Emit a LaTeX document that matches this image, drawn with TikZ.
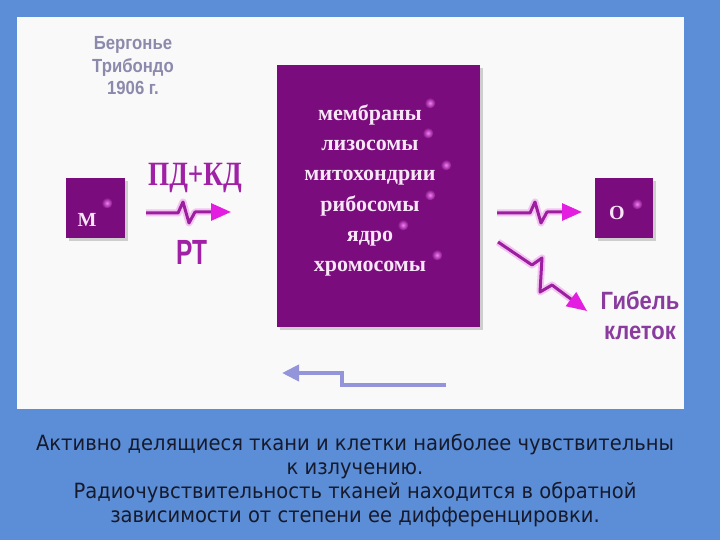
\documentclass[tikz,border=0pt]{standalone}
\usepackage{fontspec}
\setmainfont{Liberation Serif}
\newfontfamily\serifnarrow[FakeStretch=0.8]{Liberation Serif}
\newfontfamily\sansnarrow[FakeStretch=0.88]{Liberation Sans}
\newfontfamily\sansrt[FakeStretch=0.7]{Liberation Sans}
\newfontfamily\capfont[FakeStretch=0.93]{DejaVu Sans}
\usetikzlibrary{arrows.meta,shadows}
\definecolor{bgblue}{HTML}{5B8ED6}
\definecolor{panel}{HTML}{F9F9FA}
\definecolor{boxpurple}{HTML}{7B0C7E}
\definecolor{linepurple}{HTML}{9C1FA0}
\definecolor{tipmagenta}{HTML}{E41EE0}
\definecolor{glowpink}{HTML}{F3C4F1}
\definecolor{labelpurple}{HTML}{A021A6}
\definecolor{deathpurple}{HTML}{8A3B9E}
\definecolor{graylilac}{HTML}{8C8AAC}
\definecolor{boxtext}{HTML}{F6E6F6}
\definecolor{backarrow}{HTML}{9494DA}
\definecolor{captext}{HTML}{161A2C}
\definecolor{dotcore}{HTML}{F47CF4}
\tikzset{
  cellbox/.style={fill=boxpurple, inner sep=0pt,
    drop shadow={shadow xshift=3pt, shadow yshift=-3pt, fill=black!30, opacity=0.6}},
  zig/.style={draw=linepurple, line width=3pt, line join=round,
    -{Triangle[length=20pt,width=17pt,color=tipmagenta]},
    preaction={draw=glowpink, line width=7pt, -, shorten >=14pt, line join=round}},
  backline/.style={draw=backarrow, line width=4pt,
    -{Triangle[length=17pt,width=16pt,color=backarrow]}},
  glowdot/.style={inner color=dotcore, outer color=boxpurple}
}
\begin{document}
\begin{tikzpicture}[x=1pt,y=-1pt]
\useasboundingbox (0,0) rectangle (720,540);
\fill[bgblue] (0,0) rectangle (720,540);
\fill[panel] (17,17) rectangle (684,409);

% author
\node[graylilac, font=\sansnarrow\bfseries\fontsize{19}{22.5}\selectfont, align=center] (author) at (133,66)
  {Бергонье\\Трибондо\\1906 г.};

% boxes
\node[cellbox, minimum width=59pt, minimum height=59pt,
  label={[boxtext, font=\bfseries\fontsize{20}{20}\selectfont, xshift=-8pt, yshift=-12pt]center:М}] (m) at (95,208) {};
\node[cellbox, minimum width=203pt, minimum height=262pt] (cell) at (378.5,196) {};
\node[cellbox, minimum width=58pt, minimum height=60pt,
  label={[boxtext, font=\bfseries\fontsize{20}{20}\selectfont, xshift=-7pt, yshift=-5pt]center:О}] (o) at (624,208) {};

% glow dots
\foreach \p in {(107,203),(637,204),(430,103),(428,133),(446,165),(430,195),(403,225),(437,255)}
  \shade[glowdot] \p circle (5.5pt);

% cell content
\node[boxtext, font=\bfseries\fontsize{22}{30.2}\selectfont, align=center] (organelles) at (370,190.5)
  {мембраны\\лизосомы\\митохондрии\\рибосомы\\ядро\\хромосомы};

% labels
\node[labelpurple, font=\serifnarrow\bfseries\fontsize{34}{34}\selectfont] (pdkd) at (195,178) {ПД+КД};
\node[labelpurple, font=\sansrt\bfseries\fontsize{35}{35}\selectfont] (rt) at (192,252) {РТ};
\node[deathpurple, font=\sansnarrow\bfseries\fontsize{25}{30}\selectfont, align=center] (death) at (640,315)
  {Гибель\\клеток};

% zigzag arrows
\coordinate (l1) at (146,213);
\coordinate (l2) at (231,212);
\draw[zig] (l1) -- (178,213) -- (183,202) -- (189,223) -- (195,212) -- (l2);
\coordinate (r1) at (497,213);
\coordinate (r2) at (582,212);
\draw[zig] (r1) -- (530,213) -- (535,202) -- (541,223) -- (547,212) -- (r2);
\coordinate (d1) at (498,242);
\coordinate (d2) at (587,311);
\draw[zig] (d1) -- (532,265) -- (542,258) -- (540,292) -- (552,285) -- (d2);

% back arrow
\coordinate (b1) at (446,385);
\coordinate (b2) at (282,373);
\draw[backline] (b1) -- (342,385) -- (342,373) -- (b2);

% caption
\node[captext, font=\capfont\fontsize{21}{24}\selectfont, align=center] (caption) at (355,481)
  {Активно делящиеся ткани и клетки наиболее чувствительны\\к излучению.\\Радиочувствительность тканей находится в обратной\\зависимости от степени ее дифференцировки.};
\end{tikzpicture}
\end{document}
